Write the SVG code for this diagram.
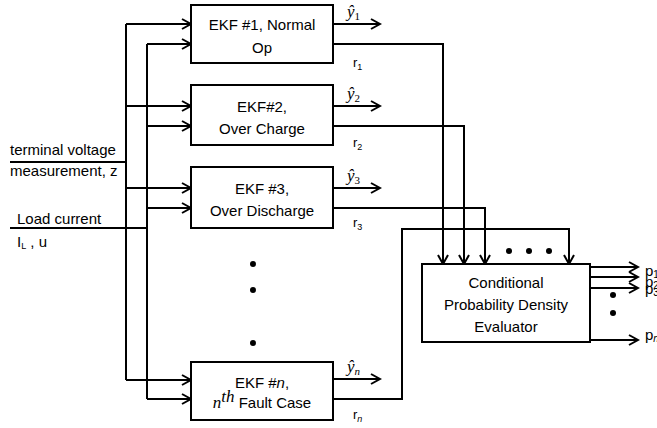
<svg xmlns="http://www.w3.org/2000/svg" width="657" height="428" viewBox="0 0 657 428">
<style>
.box{fill:#fff;stroke:#000;stroke-width:2}
.ln{fill:none;stroke:#000;stroke-width:2}
.t{font-family:"Liberation Sans",Arial,sans-serif;font-size:15px;fill:#000}
.tc{font-family:"Liberation Sans",Arial,sans-serif;font-size:15px;fill:#000;text-anchor:middle}
.s{font-family:"Liberation Sans",Arial,sans-serif;font-size:13px;fill:#000}
.m{font-family:"Liberation Serif","Times New Roman",serif;font-style:italic;font-size:17px;fill:#000}
.dot{fill:#000}
</style>
<defs>
<marker id="ah" markerUnits="userSpaceOnUse" markerWidth="12" markerHeight="12" refX="10" refY="6" orient="auto">
<path d="M1,1 L10,6 L1,11" fill="none" stroke="#000" stroke-width="2"/>
</marker>
</defs>

<g id="connectors">
<path class="ln" d="M10,162 H126"/>
<path class="ln" d="M10,228 H147"/>
<path class="ln" d="M126,24 V380"/>
<path class="ln" d="M147,44 V399"/>
<path class="ln" marker-end="url(#ah)" d="M126,24 H191"/>
<path class="ln" marker-end="url(#ah)" d="M147,44 H191"/>
<path class="ln" marker-end="url(#ah)" d="M126,106 H191"/>
<path class="ln" marker-end="url(#ah)" d="M147,126 H191"/>
<path class="ln" marker-end="url(#ah)" d="M126,188 H191"/>
<path class="ln" marker-end="url(#ah)" d="M147,208 H191"/>
<path class="ln" marker-end="url(#ah)" d="M126,380 H191"/>
<path class="ln" marker-end="url(#ah)" d="M147,399 H191"/>
<path class="ln" marker-end="url(#ah)" d="M333,24 H380"/>
<path class="ln" marker-end="url(#ah)" d="M333,106 H380"/>
<path class="ln" marker-end="url(#ah)" d="M333,188 H380"/>
<path class="ln" marker-end="url(#ah)" d="M333,379 H380"/>
<path class="ln" marker-end="url(#ah)" d="M333,44 H443 V264"/>
<path class="ln" marker-end="url(#ah)" d="M333,126 H464 V264"/>
<path class="ln" marker-end="url(#ah)" d="M333,208 H485 V264"/>
<path class="ln" marker-end="url(#ah)" d="M333,399 H402 V229 H569 V264"/>
<path class="ln" marker-end="url(#ah)" d="M590,267 H638"/>
<path class="ln" marker-end="url(#ah)" d="M590,277 H638"/>
<path class="ln" marker-end="url(#ah)" d="M590,288 H638"/>
<path class="ln" marker-end="url(#ah)" d="M590,340 H638"/>
</g>

<g id="labels">
<text class="t" x="10" y="155">terminal voltage</text>
<text class="t" x="10" y="176">measurement, z</text>
<text class="t" x="17" y="224">Load current</text>
<text class="t" x="17" y="247">I<tspan font-size="9" dy="2">L</tspan><tspan dy="-2"> , u</tspan></text>
<text class="m" x="347" y="17">ŷ<tspan font-size="11" dy="3" font-style="normal">1</tspan></text>
<text class="m" x="347" y="99">ŷ<tspan font-size="11" dy="3" font-style="normal">2</tspan></text>
<text class="m" x="347" y="181">ŷ<tspan font-size="11" dy="3" font-style="normal">3</tspan></text>
<text class="m" x="347" y="372">ŷ<tspan font-size="11" dy="3">n</tspan></text>
<text class="s" x="353" y="67">r<tspan font-size="9" dy="3">1</tspan></text>
<text class="s" x="353" y="147">r<tspan font-size="9" dy="3">2</tspan></text>
<text class="s" x="353" y="227">r<tspan font-size="9" dy="3">3</tspan></text>
<text class="s" x="353" y="419">r<tspan font-size="9" dy="3" font-style="italic">n</tspan></text>
<text class="t" x="645" y="276">p<tspan font-size="10" dy="2">1</tspan></text>
<text class="t" x="645" y="287">p<tspan font-size="10" dy="2">2</tspan></text>
<text class="t" x="645" y="294">p<tspan font-size="10" dy="2">3</tspan></text>
<text class="t" x="645" y="340">p<tspan font-size="10" dy="2" font-style="italic">n</tspan></text>
</g>

<g id="dots">
<circle class="dot" cx="253" cy="264" r="3"/>
<circle class="dot" cx="253" cy="290" r="3"/>
<circle class="dot" cx="253" cy="343" r="3"/>
<circle class="dot" cx="509" cy="251" r="3"/>
<circle class="dot" cx="529" cy="251" r="3"/>
<circle class="dot" cx="549" cy="251" r="3"/>
<circle class="dot" cx="613" cy="295" r="3"/>
<circle class="dot" cx="613" cy="313" r="3"/>
</g>

<g id="ekf1">
<rect class="box" x="191" y="5" width="142" height="58"/>
<text class="tc" x="262" y="30">EKF #1, Normal</text>
<text class="tc" x="262" y="53">Op</text>
</g>
<g id="ekf2">
<rect class="box" x="191" y="85" width="142" height="60"/>
<text class="tc" x="262" y="112">EKF#2,</text>
<text class="tc" x="262" y="134">Over Charge</text>
</g>
<g id="ekf3">
<rect class="box" x="191" y="167" width="142" height="61"/>
<text class="tc" x="262" y="194">EKF #3,</text>
<text class="tc" x="262" y="216">Over Discharge</text>
</g>
<g id="ekfn">
<rect class="box" x="191" y="362" width="142" height="58"/>
<text class="tc" x="262" y="388">EKF #<tspan font-style="italic">n</tspan>,</text>
<text class="tc" x="262" y="408"><tspan class="m" font-size="18">n</tspan><tspan class="m" font-size="12" dy="-6">th</tspan><tspan dy="6"> Fault Case</tspan></text>
</g>
<g id="cpd">
<rect class="box" x="422" y="264" width="168" height="78"/>
<text class="tc" x="506" y="288">Conditional</text>
<text class="tc" x="506" y="310">Probability Density</text>
<text class="tc" x="506" y="332">Evaluator</text>
</g>
</svg>
